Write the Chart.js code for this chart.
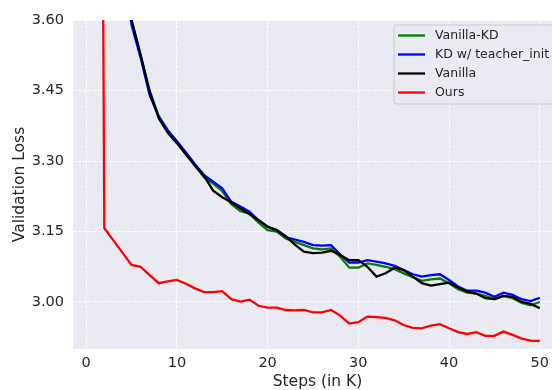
<!DOCTYPE html>
<html><head><meta charset="utf-8">
<script src="https://cdn.jsdelivr.net/npm/chart.js@4/dist/chart.umd.min.js"></script>
<style>html,body{margin:0;padding:0;background:#fff;overflow:hidden;width:552px;height:390px}canvas{display:block}</style>
</head><body>
<canvas id="c" width="566" height="390" style="width:566px;height:390px"></canvas>
<script>
const steps = [1,2,3,4,5,6,7,8,9,10,11,12,13,14,15,16,17,18,19,20,21,22,23,24,25,26,27,28,29,30,31,32,33,34,35,36,37,38,39,40,41,42,43,44,45,46,47,48,49,50];
const vanillaKD = [null,null,null,3.76,3.60,3.525,3.45,3.395,3.365,3.342,3.316,3.290,3.265,3.252,3.236,3.208,3.193,3.188,3.169,3.153,3.150,3.135,3.128,3.121,3.114,3.112,3.114,3.096,3.073,3.073,3.082,3.079,3.075,3.070,3.061,3.053,3.045,3.048,3.050,3.040,3.027,3.020,3.018,3.013,3.006,3.013,3.008,2.998,2.993,3.000];
const kdTeacherInit = [null,null,null,3.75,3.59,3.52,3.44,3.395,3.365,3.342,3.318,3.293,3.270,3.256,3.242,3.213,3.203,3.192,3.174,3.160,3.153,3.138,3.133,3.128,3.121,3.120,3.121,3.101,3.084,3.084,3.089,3.086,3.082,3.077,3.068,3.059,3.054,3.057,3.059,3.047,3.033,3.024,3.024,3.020,3.011,3.020,3.015,3.006,3.002,3.009];
const vanilla = [null,null,null,3.76,3.60,3.526,3.447,3.391,3.360,3.338,3.314,3.290,3.268,3.237,3.223,3.212,3.199,3.187,3.174,3.160,3.153,3.140,3.122,3.107,3.104,3.105,3.109,3.100,3.089,3.089,3.075,3.054,3.061,3.073,3.068,3.054,3.040,3.035,3.038,3.041,3.031,3.022,3.018,3.008,3.006,3.013,3.011,3.000,2.996,2.987];
const ours = [7.0,3.157,3.131,3.105,3.079,3.075,3.057,3.040,3.044,3.047,3.039,3.029,3.021,3.021,3.023,3.006,3.001,3.005,2.992,2.988,2.988,2.983,2.982,2.983,2.978,2.978,2.983,2.971,2.954,2.957,2.969,2.968,2.966,2.961,2.951,2.945,2.944,2.950,2.953,2.944,2.936,2.932,2.936,2.928,2.928,2.937,2.930,2.922,2.918,2.917];
const seriesLabels = ['Vanilla-KD','KD w/ teacher_init','Vanilla','Ours'];
const seriesColors = ['#008000','#0000ff','#000000','#ff0000'];
const xTicks = [0,10,20,30,40,50];
const xTickLabels = ['0','10','20','30','40','50'];
const yTicks = [3.00,3.15,3.30,3.45,3.60];
const yTickLabels = ['3.00','3.15','3.30','3.45','3.60'];

const seriesValues = [vanillaKD, kdTeacherInit, vanilla, ours];
const FONT = 'DejaVu Sans';
const TEXT = '#262626';

const bgPlugin = {
  id: 'bg',
  beforeDraw(chart) {
    const {ctx, chartArea: a} = chart;
    ctx.save();
    ctx.fillStyle = '#ffffff';
    ctx.fillRect(0, 0, chart.width, chart.height);
    ctx.fillStyle = '#eaeaf2';
    ctx.fillRect(a.left, a.top, a.right - a.left, a.bottom - a.top);
    ctx.restore();
  }
};

const legendPlugin = {
  id: 'mplLegend',
  afterDraw(chart) {
    const ctx = chart.ctx;
    const x0 = 394, y0 = 25, w = 163, h = 79, r = 3;
    ctx.save();
    ctx.beginPath();
    ctx.moveTo(x0 + r, y0);
    ctx.lineTo(x0 + w - r, y0); ctx.arcTo(x0 + w, y0, x0 + w, y0 + r, r);
    ctx.lineTo(x0 + w, y0 + h - r); ctx.arcTo(x0 + w, y0 + h, x0 + w - r, y0 + h, r);
    ctx.lineTo(x0 + r, y0 + h); ctx.arcTo(x0, y0 + h, x0, y0 + h - r, r);
    ctx.lineTo(x0, y0 + r); ctx.arcTo(x0, y0, x0 + r, y0, r);
    ctx.closePath();
    ctx.fillStyle = 'rgba(234,234,242,0.85)';
    ctx.fill();
    ctx.strokeStyle = '#cccccc';
    ctx.lineWidth = 1;
    ctx.stroke();
    ctx.font = '12.5px "' + FONT + '"';
    ctx.textBaseline = 'middle';
    ctx.fillStyle = TEXT;
    chart.data.datasets.forEach((ds, i) => {
      const y = 35.5 + i * 19;
      ctx.strokeStyle = ds.borderColor;
      ctx.lineWidth = 2.3;
      ctx.beginPath();
      ctx.moveTo(398, y); ctx.lineTo(425, y);
      ctx.stroke();
      ctx.fillStyle = TEXT;
      ctx.fillText(ds.label, 435, y);
    });
    ctx.restore();
  }
};

const datasets = seriesLabels.map((lab, i) => ({
  label: lab,
  data: steps.map((s, j) => ({x: s, y: seriesValues[i][j]})),
  borderColor: seriesColors[i],
  backgroundColor: seriesColors[i],
  borderWidth: 2.3,
  pointRadius: 0,
  tension: 0,
  fill: false,
  order: 4 - i
}));

new Chart(document.getElementById('c'), {
  type: 'line',
  data: {datasets},
  options: {
    responsive: false,
    animation: false,
    devicePixelRatio: 1,
    layout: {padding: {top: 20, right: 4, left: 0, bottom: 0}},
    plugins: {legend: {display: false}, tooltip: {enabled: false}},
    scales: {
      x: {
        type: 'linear', min: -1.45, max: 52.45,
        afterBuildTicks: s => { s.ticks = xTicks.map(v => ({value: v})); },
        afterFit: s => { s.height = 41; },
        ticks: {
          font: {family: FONT, size: 14.5}, color: TEXT, padding: 6, maxRotation: 0,
          callback: (v, i) => xTickLabels[i]
        },
        grid: {color: '#ffffff', lineWidth: 1, drawTicks: false},
        border: {display: false, dash: [3.5, 1.5]},
        title: {display: true, text: 'Steps (in K)', font: {family: FONT, size: 15.5}, color: TEXT, padding: {top: 0, bottom: -1}}
      },
      y: {
        type: 'linear', min: 2.90, max: 3.60,
        afterBuildTicks: s => { s.ticks = yTicks.map(v => ({value: v})); },
        afterFit: s => { s.width = 73; },
        ticks: {
          font: {family: FONT, size: 14.5}, color: TEXT, padding: 9,
          callback: (v, i) => yTickLabels[i]
        },
        grid: {color: '#ffffff', lineWidth: 1, drawTicks: false},
        border: {display: false, dash: [3.5, 1.5]},
        title: {display: true, text: 'Validation Loss', font: {family: FONT, size: 15.5}, color: TEXT, padding: {top: 10.5, bottom: 0}}
      }
    }
  },
  plugins: [bgPlugin, legendPlugin]
});
</script>
</body></html>
